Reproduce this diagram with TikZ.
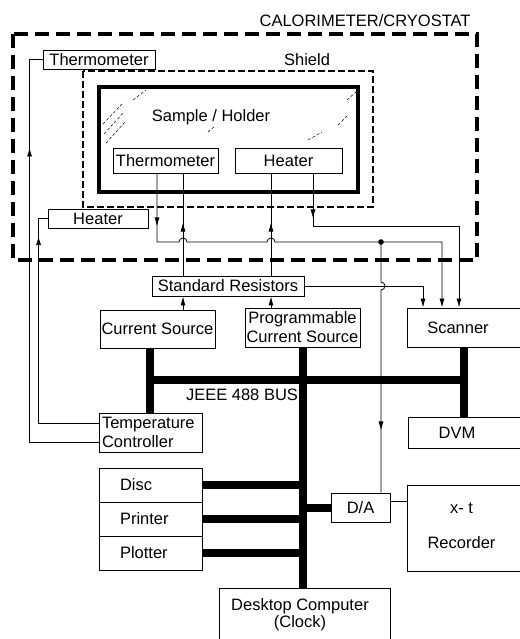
\documentclass[tikz,border=0pt]{standalone}
\usepackage{fontspec}
\setmainfont{Liberation Sans}
\usetikzlibrary{arrows.meta,decorations.markings}
\newcommand{\dgfont}{\fontsize{16.5}{19}\selectfont}
\tikzset{
  cryo/.style={line width=3.5pt,dash pattern=on 14pt off 7pt},
  shld/.style={line width=2.5pt,dash pattern=on 7pt off 3pt},
  blk/.style={draw,fill=white,line width=0.9pt,inner sep=0pt},
  wire/.style={line width=0.8pt},
  bus/.style={line width=8pt},
  arr/.style={-{Latex[length=9pt,width=5pt]}},
  marr/.style={postaction={decorate},decoration={markings,mark=at position #1 with {\arrow{Latex[length=9pt,width=5pt]}}}},
  htch/.style={line width=0.5pt,dash pattern=on 3pt off 2pt}
}

\begin{document}
\begin{tikzpicture}[x=1pt,y=-1pt,font=\dgfont]
\useasboundingbox (0,0) rectangle (519,639);
\draw[cryo] (13,34) rectangle (477,260);
\draw[shld] (83,71) rectangle (373,207);
\draw[line width=3.5pt] (99,87) rectangle (358,192);
\draw[htch] (103,124) -- (122,104); \draw[htch] (104,134) -- (124,112);
\draw[htch] (106,143) -- (126,121); \draw[htch] (133,100) -- (146,90);
\draw[htch] (347,100) -- (356,92); \draw[htch] (338,125) -- (348,115);
\draw[htch] (308,140) -- (322,132); \draw[htch] (208,132) -- (215,126);
\node[anchor=east] (cal) at (474,20.5) {CALORIMETER/CRYOSTAT};
\node (shl) at (307,60) {Shield};
\node (smp) at (211,117) {Sample / Holder};
\node (buslbl) at (242,395) {JEEE 488 BUS};
\node[blk,minimum width=112pt,minimum height=19pt] (tho) at (99,59.5) {Thermometer};
\node[blk,minimum width=100pt,minimum height=19pt] (hto) at (98,218.5) {Heater};
\node[blk,minimum width=105pt,minimum height=25pt] (thi) at (165.5,160.5) {Thermometer};
\node[blk,minimum width=107pt,minimum height=25pt] (hti) at (288.5,160.5) {Heater};
\node[blk,minimum width=152pt,minimum height=20pt] (sr) at (228,286) {Standard Resistors};
\node[blk,minimum width=115pt,minimum height=38pt] (cs) at (157.5,329) {Current Source};
\node[blk,minimum width=115pt,minimum height=39pt,align=center] (pcs) at (302.5,327.5) {Programmable\\Current Source};
\node[blk,minimum width=128pt,minimum height=39pt,label={[xshift=-13pt]center:Scanner}] (scan) at (471,327.5) {};
\node[blk,minimum width=127pt,minimum height=31pt,label={[xshift=-14.5pt]center:DVM}] (dvm) at (471.5,432.5) {};
\node[blk,text width=97pt,inner xsep=3pt,minimum height=39pt,align=left] (tc) at (150.5,432.5) {Temperature\\Controller};
\node[blk,text width=61pt,inner xsep=21pt,minimum height=34pt,align=left] (disc) at (150.5,485) {Disc};
\node[blk,text width=61pt,inner xsep=21pt,minimum height=34pt,align=left] (prn) at (150.5,519) {Printer};
\node[blk,text width=61pt,inner xsep=21pt,minimum height=34pt,align=left] (plt) at (150.5,553) {Plotter};
\node[blk,minimum width=59pt,minimum height=29pt] (da) at (360.5,507.5) {D/A};
\node[blk,minimum width=128pt,minimum height=86pt,label={[xshift=-9.5pt,yshift=2.5pt,align=center]center:{x- t\\[16pt]Recorder}}] (rec) at (471,528) {};
\node[blk,minimum width=171pt,minimum height=62pt,label={[xshift=-4.5pt,yshift=4.5pt,align=center]center:{Desktop Computer\\[-2pt](Clock)}}] (pc) at (304.5,619) {};
% bus
\coordinate (bl) at (150,380);
\coordinate (br) at (464,380);
\draw[bus] (cs.south -| bl) -- (tc.north -| bl);
\draw[bus] (bl) -- (br);
\draw[bus] (scan.south -| br) -- (dvm.north -| br);
\draw[bus] (pcs.south) -- (pcs.south |- pc.north);
\draw[bus] (disc.east) -- (disc.east -| pcs.south);
\draw[bus] (prn.east) -- (prn.east -| pcs.south);
\draw[bus] (plt.east) -- (plt.east -| pcs.south);
\draw[bus] (da.west) -- (da.west -| pcs.south);
% sample wires
\draw[wire,arr,marr=53pt] (thi.south -| 157,0) -- (157,242) -- (179,242) arc[start angle=180,end angle=0,radius=4pt]
  -- (267,242) arc[start angle=180,end angle=0,radius=4pt] -- (442,242) -- (scan.north -| 442,0);
\draw[wire,marr=53pt] (sr.north -| 183,0) -- (thi.south -| 183,0);
\draw[wire,arr] (cs.north -| 183,0) -- (sr.south -| 183,0);
\draw[wire,marr=53pt] (sr.north -| 271,0) -- (hti.south -| 271,0);
\draw[wire,arr] (pcs.north -| 271,0) -- (sr.south -| 271,0);
\draw[wire,arr,marr=45pt] (hti.south -| 313,0) -- (313,226) -- (459,226) -- (scan.north -| 459,0);
\draw[wire,arr] (sr.east) -- (423,286) -- (scan.north -| 423,0);
\coordinate (tap) at (381,242);
\fill (tap) circle[radius=2.8pt];
\draw[wire,marr=193pt] (tap) -- (381,282) arc[start angle=90,end angle=-90,radius=4pt] -- (da.north -| 381,0);
\draw[wire] ([yshift=6.5pt]da.east) -- ([yshift=6.5pt]da.east -| rec.west);
% temperature control loop
\draw[wire,marr=364pt] ([yshift=-10pt]tc.west) -- ++(-69,0) |- (tho.west);
\draw[wire,marr=247pt] ([yshift=9.5pt]tc.west) -- ++(-60,0) |- (hto.west);
\end{tikzpicture}
\end{document}
